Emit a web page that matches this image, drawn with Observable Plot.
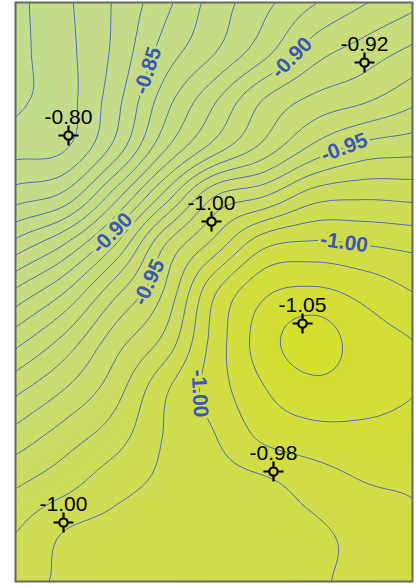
<!DOCTYPE html>
<html><head><meta charset="utf-8">
<script src="https://cdn.jsdelivr.net/npm/d3@7"></script>
<script src="https://cdn.jsdelivr.net/npm/@observablehq/plot@0.6"></script>
<style>body{margin:0;background:#fff}</style>
</head><body><div id="chart"></div>
<script>
// extent of the mapped area (data units)
const spanX = 397, spanY = 579;
// surface values on a 9 x 13 grid (rows top to bottom)
const surface = [
  [-0.807, -0.818, -0.831, -0.847, -0.864, -0.877, -0.889, -0.899, -0.907],
  [-0.807, -0.817, -0.832, -0.854, -0.869, -0.886, -0.905, -0.914, -0.922],
  [-0.808, -0.816, -0.836, -0.865, -0.888, -0.910, -0.922, -0.928, -0.937],
  [-0.816, -0.819, -0.843, -0.878, -0.904, -0.923, -0.942, -0.953, -0.956],
  [-0.835, -0.843, -0.875, -0.913, -0.949, -0.959, -0.975, -0.978, -0.977],
  [-0.863, -0.880, -0.909, -0.949, -0.973, -0.997, -1.0015, -0.9995, -0.997],
  [-0.892, -0.910, -0.937, -0.961, -0.9985, -1.018, -1.022, -1.017, -1.010],
  [-0.916, -0.933, -0.955, -0.9725, -1.0035, -1.025, -1.035, -1.025, -1.020],
  [-0.937, -0.950, -0.9655, -0.988, -1.0045, -1.0195, -1.027, -1.0245, -1.0205],
  [-0.954, -0.965, -0.9755, -0.9905, -0.9995, -1.012, -1.016, -1.017, -1.016],
  [-0.969, -0.977, -0.9865, -0.992, -0.996, -0.998, -1.004, -1.0095, -1.011],
  [-0.980, -0.9905, -0.993, -0.995, -0.996, -0.998, -0.9985, -1.003, -1.008],
  [-0.986, -0.9915, -0.993, -0.995, -0.996, -0.997, -0.999, -1.002, -1.006]
];
const thresholds = d3.range(81, 104).map(k => -k / 100);
// contour labels: level and approximate anchor
const labelLevels = [-0.85, -0.90, -0.95, -1.00, -0.90, -0.95, -1.00];
const labelX = [132, 274, 328, 328, 97, 128, 184];
const labelY = [68, 53, 143, 244, 231, 277, 391];
// sample sites
const siteX = [53, 349, 196, 287, 258, 48];
const siteY = [133, 60, 219, 321, 469, 520];
const siteValue = [-0.80, -0.92, -1.00, -1.05, -0.98, -1.00];
// colour ramp
const colorDomain = [-1.04, -1.00, -0.95, -0.88, -0.80];
const colorRange = ["#d6df28", "#d0dd4a", "#cadc70", "#c6dc82", "#c3db8e"];

const nR = surface.length, nC = surface[0].length;
function at(j, i) {
  if (i < 0) return 2 * at(j, 0) - at(j, 1);
  if (i > nC - 1) return 2 * at(j, nC - 1) - at(j, nC - 2);
  if (j < 0) return 2 * at(0, i) - at(1, i);
  if (j > nR - 1) return 2 * at(nR - 1, i) - at(nR - 2, i);
  return surface[j][i];
}
function cr(p0, p1, p2, p3, t) {
  return p1 + 0.5 * t * (p2 - p0 + t * (2 * p0 - 5 * p1 + 4 * p2 - p3 + t * (3 * (p1 - p2) + p3 - p0)));
}
function field(x, y) {
  const gx = Math.max(0, Math.min(nC - 1, x / spanX * (nC - 1)));
  const gy = Math.max(0, Math.min(nR - 1, y / spanY * (nR - 1)));
  const i = Math.min(nC - 2, Math.floor(gx)), j = Math.min(nR - 2, Math.floor(gy));
  const tx = gx - i, ty = gy - j;
  const r = [];
  for (let m = -1; m <= 2; m++) r.push(cr(at(j + m, i - 1), at(j + m, i), at(j + m, i + 1), at(j + m, i + 2), tx));
  return cr(r[0], r[1], r[2], r[3], ty);
}
function grad(x, y) {
  const h = 0.5;
  return [(field(x + h, y) - field(x - h, y)) / (2 * h), (field(x, y + h) - field(x, y - h)) / (2 * h)];
}
const labels = labelLevels.map((level, k) => {
  let x = labelX[k], y = labelY[k];
  for (let it = 0; it < 30; it++) {
    const [gx, gy] = grad(x, y);
    const g2 = gx * gx + gy * gy;
    let dx = (field(x, y) - level) * gx / g2, dy = (field(x, y) - level) * gy / g2;
    const len = Math.hypot(dx, dy);
    if (len > 4) { dx *= 4 / len; dy *= 4 / len; }
    x -= dx; y -= dy;
  }
  const [gx, gy] = grad(x, y);
  let a = Math.atan2(gx, -gy) * 180 / Math.PI;
  if (a > 90) a -= 180;
  if (a <= -90) a += 180;
  return {x, y, level, angle: a, text: level.toFixed(2)};
});
const sites = siteX.map((x, k) => ({x, y: siteY[k], text: siteValue[k].toFixed(2)}));

const crosshair = {
  draw(context) {
    const r = 4.2, a = 5.2, b = 10;
    context.moveTo(r, 0); context.arc(0, 0, r, 0, 2 * Math.PI);
    context.moveTo(a, 0); context.lineTo(b, 0);
    context.moveTo(-a, 0); context.lineTo(-b, 0);
    context.moveTo(0, a); context.lineTo(0, b);
    context.moveTo(0, -a); context.lineTo(0, -b);
  }
};

const chart = Plot.plot({
  width: 419, height: 586,
  marginLeft: 15, marginRight: 7, marginTop: 2, marginBottom: 5,
  style: {fontFamily: "Liberation Sans, Arial, sans-serif", background: "#fff"},
  x: {domain: [0, spanX], axis: null},
  y: {domain: [0, spanY], reverse: true, axis: null},
  color: {type: "linear", domain: colorDomain, range: colorRange, clamp: true, interpolate: "rgb"},
  marks: [
    Plot.raster({fill: field, x1: 0, y1: 0, x2: spanX, y2: spanY, pixelSize: 1}),
    Plot.contour({value: field, x1: 0, y1: 0, x2: spanX, y2: spanY, pixelSize: 1, thresholds, stroke: "#4463c2", strokeWidth: 0.9}),
    Plot.text(labels, {x: "x", y: "y", text: "text", rotate: "angle", fill: "#3a58b5", stroke: "level", strokeWidth: 6, paintOrder: "stroke", strokeLinejoin: "round", fontWeight: "bold", fontSize: 21}),
    Plot.dot(sites, {x: "x", y: "y", symbol: crosshair, r: 5, fill: "none", stroke: "black", strokeWidth: 2.2}),
    Plot.text(sites, {x: "x", y: "y", text: "text", dy: -12, lineAnchor: "bottom", fontSize: 21, fill: "black"}),
    Plot.frame({stroke: "#666", strokeWidth: 2})
  ]
});
document.getElementById("chart").append(chart);
</script>
</body></html>
